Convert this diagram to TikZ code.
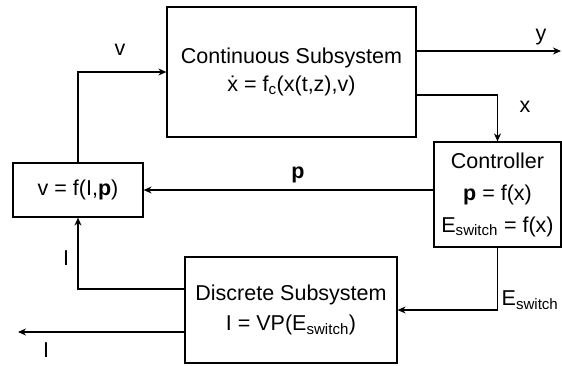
\documentclass[tikz,border=0pt]{standalone}
\usepackage{fontspec}
\setmainfont{Liberation Sans}
\usetikzlibrary{arrows.meta}

\newcommand{\esw}{E\textsubscript{switch}}

\begin{document}
\begin{tikzpicture}[x=1pt,y=-1pt,>={Stealth[length=8pt,width=7pt]},line width=1.2pt,
  font=\fontsize{21.5}{28}\selectfont,
  block/.style={draw,inner sep=0pt,align=center},
  lbl/.style={inner sep=1pt}]
\useasboundingbox (0,0) rectangle (562,365);
% blocks
\node[block,minimum width=249,minimum height=130] (cont) at (291.5,72)
  {Continuous Subsystem\\\.{x} = f\textsubscript{c}(x(t,z),v)};
\node[block,minimum width=127,minimum height=105,font=\fontsize{21.5}{32}\selectfont] (ctrl) at (497.5,194.5)
  {Controller\\\textbf{p} = f(x)\\\esw{} = f(x)};
\node[block,minimum width=130,minimum height=54] (vfun) at (78,190)
  {v = f(I,\textbf{p})};
\node[block,minimum width=212,minimum height=106,font=\fontsize{21.5}{30}\selectfont] (disc) at (291,310)
  {Discrete Subsystem\\I = VP(\esw)};
% free ends
\coordinate (yout) at (561,51);
\coordinate (iout) at (18,332);
% connectors
\draw[->] (cont.east |- yout) -- (yout);
\draw[->] (cont.east |- 0,95) -| (ctrl.north);
\draw[->] (ctrl.west |- vfun.east) -- (vfun.east);
\draw[->] (vfun.north) |- (cont.west);
\draw[->] (ctrl.south) |- (disc.east);
\draw[->] ([yshift=21pt]disc.west) -| (vfun.south);
\draw[->] (disc.west |- iout) -- (iout);
% signal labels
\node[lbl] (ly) at (541,37) {y};
\node[lbl] (lx) at (525,107) {x};
\node[lbl] (lp) at (298,175) {\textbf{p}};
\node[lbl] (lv) at (120,50) {v};
\node[lbl] (le) at (530,300) {\esw};
\node[lbl] (li) at (66,258) {I};
\node[lbl] (lo) at (46,350) {I};
\end{tikzpicture}
\end{document}
